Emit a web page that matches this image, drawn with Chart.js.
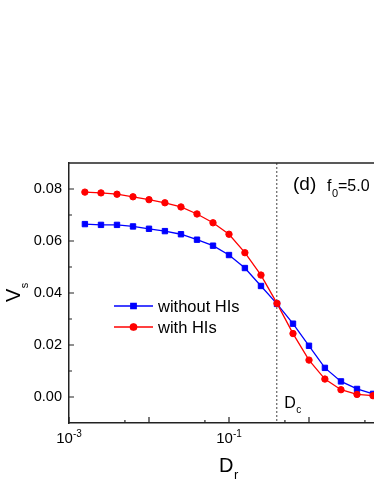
<!DOCTYPE html>
<html>
<head>
<meta charset="utf-8">
<script src="https://cdn.jsdelivr.net/npm/chart.js@4"></script>
<style>
  html, body { margin: 0; padding: 0; background: #fff; overflow: hidden; }
  #myChart { display: block; }
</style>
</head>
<body>
<canvas id="myChart" width="374" height="484"></canvas>
<script>
// D_r values (log spaced)
const drValues = [0.00158, 0.00251, 0.00398, 0.00631, 0.01, 0.0158, 0.0251, 0.0398, 0.0631, 0.1,
                  0.158, 0.251, 0.398, 0.631, 1.0, 1.58, 2.51, 3.98, 6.31];
const withoutHIs = [0.0665, 0.0662, 0.0662, 0.0656, 0.0647, 0.0638, 0.0626, 0.0605, 0.0582, 0.0546,
                    0.0496, 0.0427, 0.0358, 0.0282, 0.0197, 0.0112, 0.0060, 0.0031, 0.0012];
const withHIs = [0.0788, 0.0785, 0.0780, 0.0770, 0.0759, 0.0747, 0.0731, 0.0704, 0.0670, 0.0626,
                 0.0555, 0.0469, 0.0360, 0.0244, 0.0142, 0.0069, 0.0028, 0.0010, 0.0005];

const yTicks = [0, 0.02, 0.04, 0.06, 0.08];
const yMinor = [0.01, 0.03, 0.05, 0.07];
const xMajor = [0.001, 0.01, 0.1, 1];
const xMinor = [0.005, 0.05, 0.5, 5];
const xLabels = [0.001, 0.1];
const xLabelExp = ["-3", "-1"];
const Dc = 0.39;

const FONT = "'Liberation Sans', Arial, sans-serif";

function subText(ctx, x, y, main, size, sub, subSize, dy) {
  ctx.font = size + "px " + FONT;
  ctx.fillText(main, x, y);
  const w = ctx.measureText(main).width;
  ctx.font = subSize + "px " + FONT;
  ctx.fillText(sub, x + w + 0.5, y + dy);
  return w;
}

const annot = {
  id: "annot",
  beforeDatasetsDraw(chart) {
    const ctx = chart.ctx;
    const a = chart.chartArea;
    const xs = chart.scales.x;
    // dashed D_c line
    const px = xs.getPixelForValue(Dc);
    ctx.save();
    ctx.strokeStyle = "#444";
    ctx.lineWidth = 1;
    ctx.setLineDash([2, 2]);
    ctx.beginPath();
    ctx.moveTo(px + 0.5, a.top);
    ctx.lineTo(px + 0.5, a.bottom);
    ctx.stroke();
    ctx.restore();
  },
  afterDraw(chart) {
    const ctx = chart.ctx;
    const a = chart.chartArea;
    const xs = chart.scales.x;
    const ys = chart.scales.y;
    ctx.save();
    ctx.strokeStyle = "#222";
    ctx.lineWidth = 1.5;
    // top frame
    ctx.beginPath();
    ctx.moveTo(a.left, a.top);
    ctx.lineTo(a.right + 5, a.top);
    ctx.stroke();

    // inward ticks
    ctx.lineWidth = 1.2;
    ctx.beginPath();
    yTicks.forEach(v => { const p = ys.getPixelForValue(v); ctx.moveTo(a.left, p); ctx.lineTo(a.left + 5, p); });
    yMinor.forEach(v => { const p = ys.getPixelForValue(v); ctx.moveTo(a.left, p); ctx.lineTo(a.left + 3, p); });
    xMajor.forEach(v => { const p = xs.getPixelForValue(v); ctx.moveTo(p, a.bottom); ctx.lineTo(p, a.bottom - 6); });
    xMinor.forEach(v => { const p = xs.getPixelForValue(v); ctx.moveTo(p, a.bottom); ctx.lineTo(p, a.bottom - 3); });
    ctx.stroke();

    ctx.fillStyle = "#000";
    ctx.textAlign = "left";
    ctx.textBaseline = "alphabetic";

    // x tick labels 10^n
    xLabels.forEach((v, i) => {
      const p = xs.getPixelForValue(v);
      ctx.font = "15px " + FONT;
      const w1 = ctx.measureText("10").width;
      ctx.font = "10px " + FONT;
      const w2 = ctx.measureText(xLabelExp[i]).width;
      const x0 = p - (w1 + w2) / 2;
      ctx.font = "15px " + FONT;
      ctx.fillText("10", x0, a.bottom + 20);
      ctx.font = "10px " + FONT;
      ctx.fillText(xLabelExp[i], x0 + w1, a.bottom + 14);
    });

    // x title D_r
    subText(ctx, a.left + 150, a.bottom + 49, "D", 20, "r", 13, 7);

    // y title V_s (rotated)
    ctx.save();
    ctx.translate(19.5, 302);
    ctx.rotate(-Math.PI / 2);
    subText(ctx, 0, 0, "V", 20, "s", 11, 8);
    ctx.restore();

    // panel label
    ctx.font = "19px " + FONT;
    ctx.fillText("(d)", a.left + 224, a.top + 27);
    subText(ctx, a.left + 258, a.top + 28, "f", 16, "0", 11, 6);
    ctx.font = "16px " + FONT;
    ctx.fillText("=5.0", a.left + 269, a.top + 28);

    // D_c label
    subText(ctx, xs.getPixelForValue(Dc) + 8, a.bottom - 15, "D", 16, "c", 10, 5);

    // legend
    const ds = chart.data.datasets;
    const rows = [ds[0], ds[1]];
    rows.forEach((d, i) => {
      const ly = a.top + 143 + i * 21;
      const lx = a.left + 45;
      ctx.strokeStyle = d.borderColor;
      ctx.lineWidth = d.borderWidth;
      ctx.beginPath();
      ctx.moveTo(lx, ly);
      ctx.lineTo(lx + 39, ly);
      ctx.stroke();
      Chart.helpers.drawPoint(ctx, {
        pointStyle: d.pointStyle, radius: d.pointRadius, rotation: 0, borderWidth: 1
      }, lx + 19.5, ly);
      ctx.fillStyle = d.backgroundColor;
      ctx.fill();
      ctx.fillStyle = "#000";
      ctx.font = "16.5px " + FONT;
      ctx.fillText(d.label, lx + 44, ly + 6);
    });
    ctx.restore();
  }
};

const ctx = document.getElementById("myChart").getContext("2d");

const chart1 = new Chart(ctx, {
  type: "line",
  data: {
    datasets: [
      {
        label: "without HIs",
        data: drValues.map((x, i) => ({ x: x, y: withoutHIs[i] })),
        borderColor: "rgb(0, 0, 255)",
        backgroundColor: "rgb(0, 0, 255)",
        borderWidth: 1.3,
        pointStyle: "rect",
        pointRadius: 3.8,
        pointBorderWidth: 1,
        order: 1,
      },
      {
        label: "with HIs",
        data: drValues.map((x, i) => ({ x: x, y: withHIs[i] })),
        borderColor: "rgb(255, 0, 0)",
        backgroundColor: "rgb(255, 0, 0)",
        borderWidth: 1.3,
        pointStyle: "circle",
        pointRadius: 3.2,
        pointBorderWidth: 1,
        order: 0,
      },
    ],
  },
  options: {
    responsive: false,
    devicePixelRatio: 1,
    animation: false,
    layout: { autoPadding: false, padding: { top: 163, left: 0, right: 0, bottom: 0 } },
    plugins: { legend: { display: false }, tooltip: { enabled: false } },
    scales: {
      x: {
        type: "logarithmic",
        min: 0.001,
        max: 6.494,
        grid: { display: false, drawTicks: false },
        border: { display: true, color: "#222", width: 1.5 },
        ticks: { display: false },
        afterFit: (s) => { s.height = 61; },
      },
      y: {
        min: -0.01,
        max: 0.09,
        grid: { display: false, drawTicks: false },
        border: { display: true, color: "#222", width: 1.5 },
        afterBuildTicks: (s) => { s.ticks = yTicks.map(v => ({ value: v })); },
        afterFit: (s) => { s.width = 69; },
        ticks: {
          color: "#000",
          padding: 7,
          font: { family: FONT, size: 14.5 },
          callback: (v) => v.toFixed(2),
        },
      },
    },
  },
  plugins: [annot],
});
</script>
</body>
</html>
